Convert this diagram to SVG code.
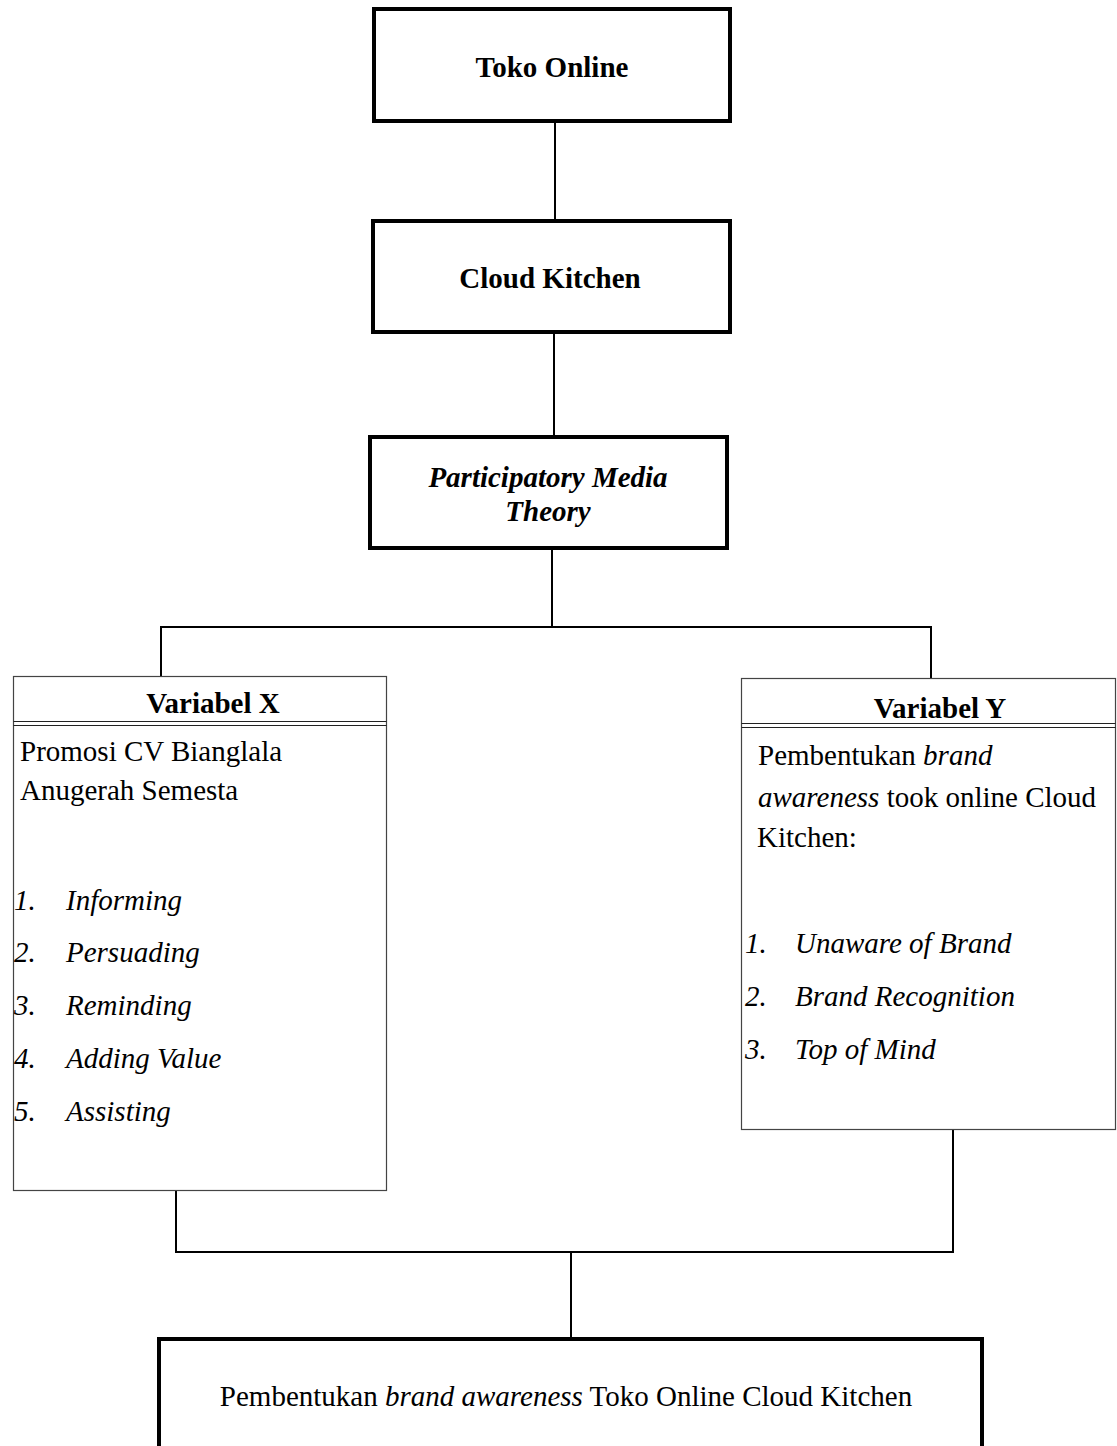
<svg xmlns="http://www.w3.org/2000/svg" width="1117" height="1446" viewBox="0 0 1117 1446">
<style>
text{font-family:"Liberation Serif","Times New Roman",serif;font-size:29px;fill:#000}
.b{font-weight:bold}
.i{font-style:italic}
.c{text-anchor:middle}
.thick{fill:#fff;stroke:#000;stroke-width:4}
.thin{fill:#fff;stroke:#444;stroke-width:1.2}
.dl{stroke:#222;stroke-width:1.2}
.con line{stroke:#000;stroke-width:2}
</style>
<rect width="1117" height="1446" fill="#fff"/>
<g class="con" id="connectors">
<line x1="555" y1="122" x2="555" y2="221"/>
<line x1="554" y1="332" x2="554" y2="437"/>
<line x1="552" y1="548" x2="552" y2="627"/>
<line x1="160" y1="627" x2="932" y2="627"/>
<line x1="161" y1="627" x2="161" y2="677"/>
<line x1="931" y1="627" x2="931" y2="679"/>
<line x1="176" y1="1191" x2="176" y2="1252"/>
<line x1="953" y1="1130" x2="953" y2="1252"/>
<line x1="175" y1="1252" x2="954" y2="1252"/>
<line x1="571" y1="1252" x2="571" y2="1337"/>
</g>
<g id="toko-online">
<rect class="thick" x="374" y="9" width="356" height="112"/>
<text class="b c" x="552" y="77">Toko Online</text>
</g>
<g id="cloud-kitchen">
<rect class="thick" x="373" y="221" width="357" height="111"/>
<text class="b c" x="550" y="288">Cloud Kitchen</text>
</g>
<g id="participatory">
<rect class="thick" x="370" y="437" width="357" height="111"/>
<text class="b i c" x="548" y="487">Participatory Media</text>
<text class="b i c" x="548" y="521">Theory</text>
</g>
<g id="variabel-x">
<rect class="thin" x="13.5" y="676.5" width="373" height="514"/>
<line class="dl" x1="13.5" y1="721.5" x2="386.5" y2="721.5"/>
<line class="dl" x1="13.5" y1="725.5" x2="386.5" y2="725.5"/>
<text class="b c" x="213" y="713">Variabel X</text>
<text x="20" y="761">Promosi CV Bianglala</text>
<text x="20" y="800">Anugerah Semesta</text>
<text class="i" x="14" y="910">1.</text><text class="i" x="66" y="910">Informing</text>
<text class="i" x="14" y="962">2.</text><text class="i" x="66" y="962">Persuading</text>
<text class="i" x="14" y="1015">3.</text><text class="i" x="66" y="1015">Reminding</text>
<text class="i" x="14" y="1068">4.</text><text class="i" x="66" y="1068">Adding Value</text>
<text class="i" x="14" y="1121">5.</text><text class="i" x="66" y="1121">Assisting</text>
</g>
<g id="variabel-y">
<rect class="thin" x="741.5" y="678.5" width="374" height="451"/>
<line class="dl" x1="741.5" y1="723.5" x2="1115.5" y2="723.5"/>
<line class="dl" x1="741.5" y1="727.5" x2="1115.5" y2="727.5"/>
<text class="b c" x="940" y="718">Variabel Y</text>
<text x="758" y="765">Pembentukan <tspan class="i">brand</tspan></text>
<text x="758" y="807"><tspan class="i">awareness</tspan> took online Cloud</text>
<text x="757" y="847">Kitchen:</text>
<text class="i" x="745" y="953">1.</text><text class="i" x="795" y="953">Unaware of Brand</text>
<text class="i" x="745" y="1006">2.</text><text class="i" x="795" y="1006">Brand Recognition</text>
<text class="i" x="745" y="1059">3.</text><text class="i" x="795" y="1059">Top of Mind</text>
</g>
<g id="hasil">
<rect class="thick" x="159" y="1339" width="823" height="130"/>
<text class="c" x="566" y="1406">Pembentukan <tspan class="i">brand awareness</tspan> Toko Online Cloud Kitchen</text>
</g>
</svg>
